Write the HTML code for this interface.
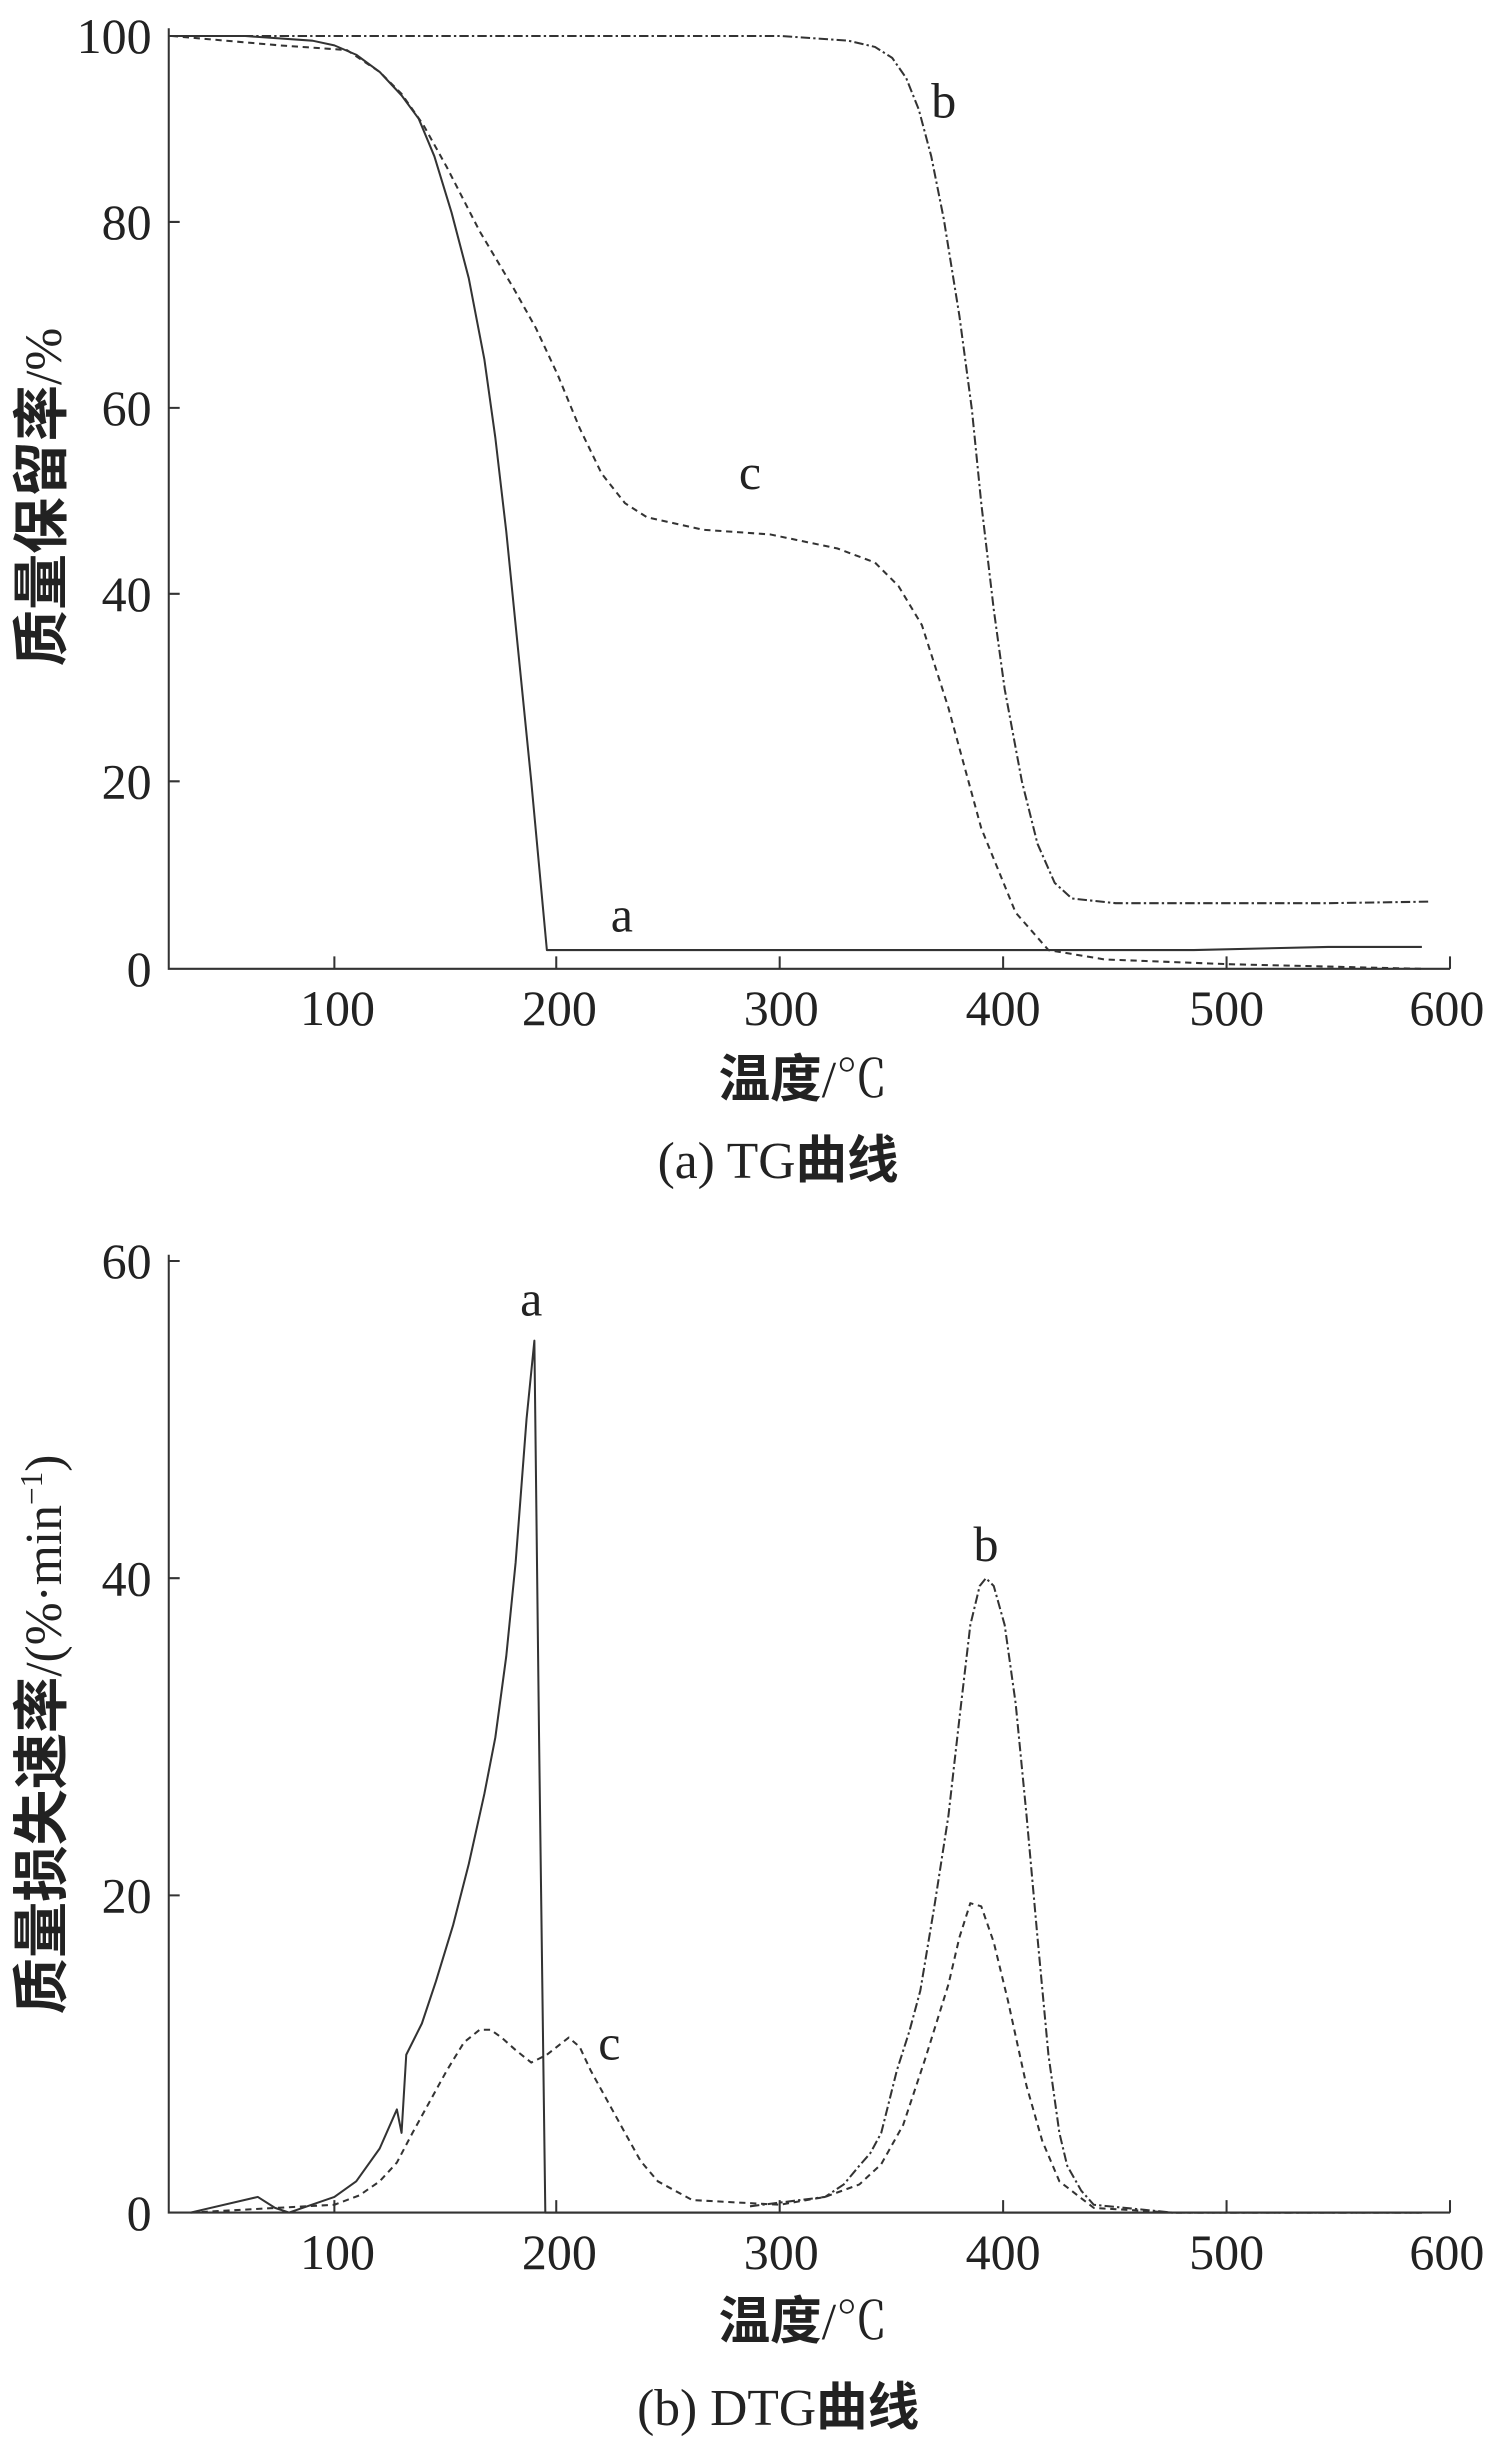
<!DOCTYPE html>
<html><head><meta charset="utf-8"><style>
html,body{margin:0;padding:0;background:#fff;}
svg{display:block;}
text{font-family:"Liberation Serif","Noto Serif CJK SC","Noto Sans CJK SC",serif;fill:#222;}
.cj{font-family:"Noto Sans CJK SC","WenQuanYi Zen Hei",sans-serif;font-weight:bold;}
</style></head><body>
<svg width="1500" height="2447" viewBox="0 0 960 1566" xmlns="http://www.w3.org/2000/svg">
<g stroke="#333" stroke-width="1.3" fill="none">
<path d="M108 18 V620 H928"/>
<path d="M108 23 h7 M108 142 h7 M108 261 h7 M108 380 h7 M108 500 h7"/>
<path d="M214 620 v-8 M356 620 v-8 M499 620 v-8 M642 620 v-8 M785 620 v-8 M928 620 v-8"/>
<path d="M108 803 V1416 H928"/>
<path d="M108 807 h7 M108 1010 h7 M108 1213 h7"/>
<path d="M214 1416 v-8 M356 1416 v-8 M499 1416 v-8 M642 1416 v-8 M785 1416 v-8 M928 1416 v-8"/>
</g>
<g font-size="32" text-anchor="end">
<text x="97" y="34">100</text><text x="97" y="153">80</text><text x="97" y="272">60</text><text x="97" y="391">40</text><text x="97" y="511">20</text><text x="97" y="631">0</text>
<text x="97" y="818">60</text><text x="97" y="1021">40</text><text x="97" y="1224">20</text><text x="97" y="1427">0</text>
</g>
<g font-size="32" text-anchor="middle">
<text x="216" y="656">100</text><text x="358" y="656">200</text><text x="500" y="656">300</text><text x="642" y="656">400</text><text x="785" y="656">500</text><text x="926" y="656">600</text>
<text x="216" y="1452">100</text><text x="358" y="1452">200</text><text x="500" y="1452">300</text><text x="642" y="1452">400</text><text x="785" y="1452">500</text><text x="926" y="1452">600</text>
<text x="398" y="596">a</text><text x="604" y="75">b</text><text x="480" y="313">c</text>
<text x="340" y="842">a</text><text x="631" y="999">b</text><text x="390" y="1318">c</text>
</g>
<text x="514" y="702" font-size="33" text-anchor="middle"><tspan class="cj">温度</tspan>/℃</text>
<text x="498" y="754" font-size="33" text-anchor="middle">(a) TG<tspan class="cj">曲线</tspan></text>
<text x="514" y="1497" font-size="33" text-anchor="middle"><tspan class="cj">温度</tspan>/℃</text>
<text x="498" y="1552" font-size="33" text-anchor="middle">(b) DTG<tspan class="cj">曲线</tspan></text>
<text transform="translate(39,318) rotate(-90)" font-size="33" text-anchor="middle"><tspan class="cj" font-size="36">质量保留率</tspan>/%</text>
<text transform="translate(39,1110) rotate(-90)" font-size="33" text-anchor="middle"><tspan class="cj" font-size="36">质量损失速率</tspan>/(%·min<tspan font-size="20" dy="-12">−1</tspan><tspan dy="12">)</tspan></text>
<g fill="none" stroke="#333" stroke-width="1.3" stroke-linejoin="round">
<polyline points="110,23 157,23 200,26 214,29 228,35 243,46 257,61 268,76 278,100 289,136 300,178 310,230 317,280 324,340 330,400 340,500 350,608 356,608 710,608 764,608 850,606 910,606"/>
<polyline stroke-dasharray="4,3" points="110,23 179,29 222,32 243,46 257,60 271,80 286,107 307,148 329,185 343,210 357,240 371,274 385,303 400,322 414,331 450,339 493,342 536,351 560,360 575,375 590,400 607,453 628,530 650,584 671,608 707,614 785,617 910,620"/>
<polyline stroke-dasharray="6,2,1.5,2" points="110,23 500,23 543,26 560,30 571,37 580,50 588,70 596,100 604,140 614,202 622,262 628,322 636,390 643,441 654,500 664,540 675,565 686,575 714,578 850,578 915,577"/>
<polyline points="122,1416 165,1406 176,1413 185,1416 214,1406 228,1396 243,1375 254,1350 257,1365 260,1315 270,1295 279,1268 290,1232 300,1193 310,1148 317,1112 324,1060 330,1000 337,908 342,858 345,1112 349,1416 910,1416"/>
<polyline stroke-dasharray="4,3" points="122,1416 214,1411 230,1405 243,1396 254,1384 264,1365 275,1345 286,1325 297,1307 307,1299 314,1299 321,1304 330,1312 340,1320 350,1315 364,1304 371,1310 378,1325 389,1345 400,1365 410,1383 421,1396 443,1408 499,1411 528,1406 550,1398 564,1385 578,1360 592,1318 607,1270 614,1240 621,1218 628,1220 636,1243 645,1280 657,1335 667,1370 678,1396 700,1413 750,1416 910,1416"/>
<polyline stroke-dasharray="6,2,1.5,2" points="480,1412 528,1406 540,1398 550,1386 557,1378 564,1365 574,1325 582,1300 589,1274 598,1220 607,1162 614,1100 621,1040 627,1015 631,1010 636,1015 643,1040 650,1090 657,1162 664,1240 671,1315 678,1365 683,1386 692,1402 700,1411 750,1416 910,1416"/>
</g>
</svg>
</body></html>
